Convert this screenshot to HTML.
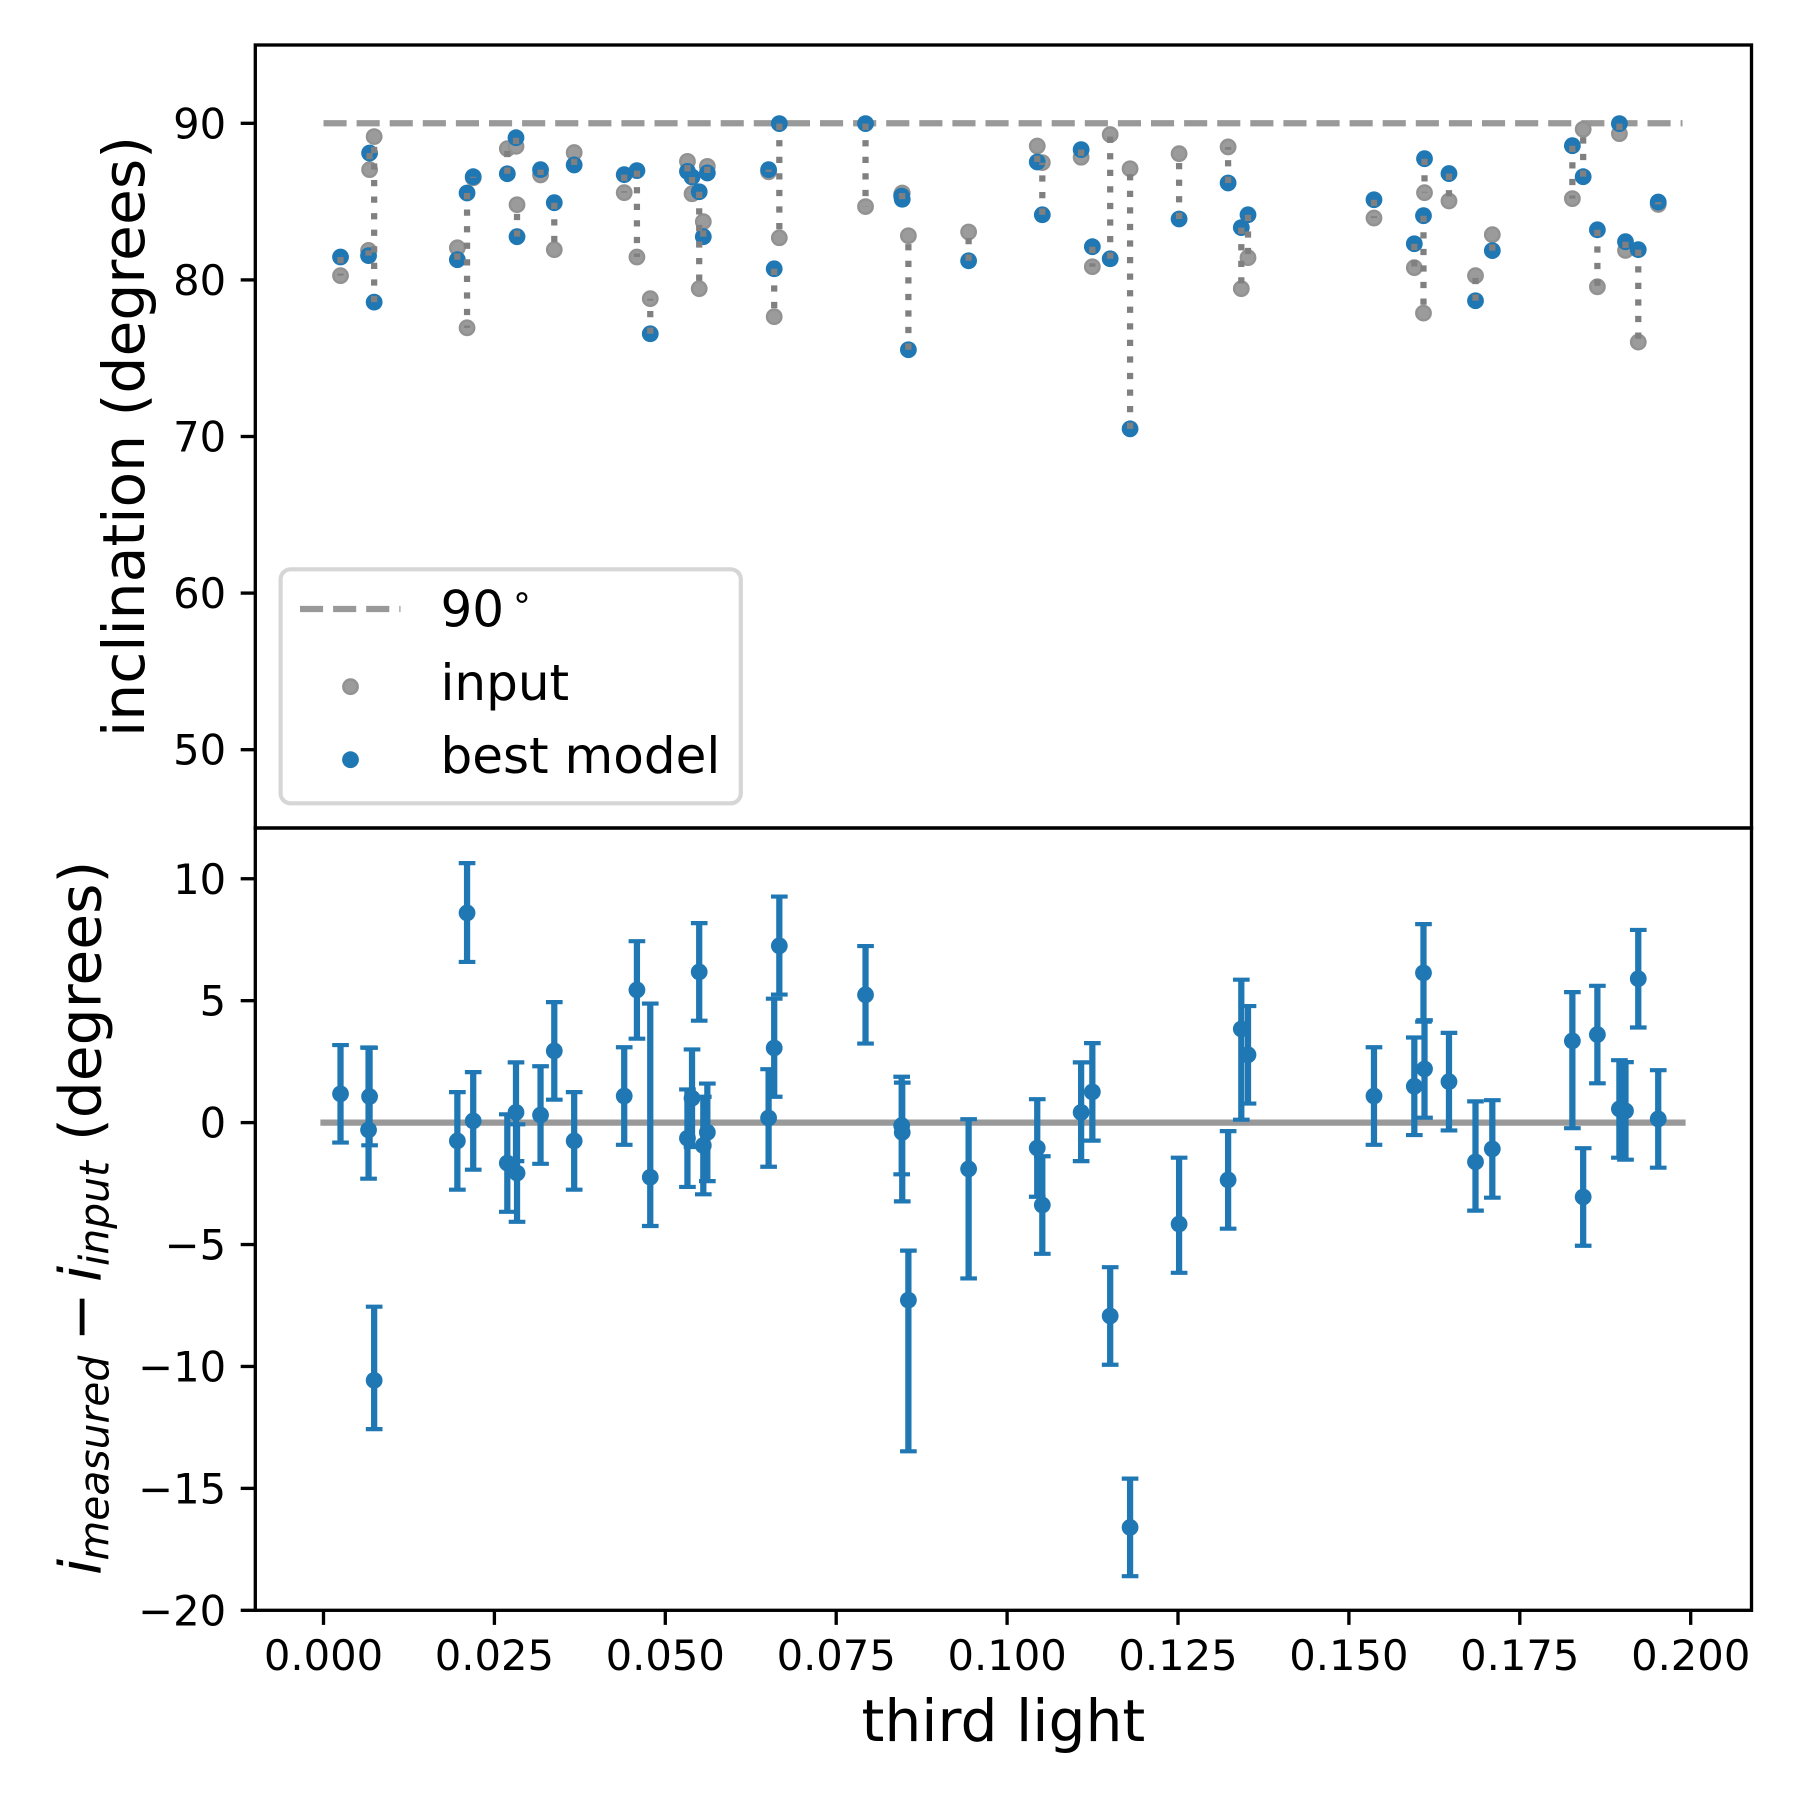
<!DOCTYPE html>
<html lang="en">
<head>
<meta charset="utf-8">
<title>Inclination vs third light</title>
<style>
html,body{margin:0;padding:0;background:#fff;}
svg{display:block;}
text{font-family:"DejaVu Sans","Liberation Sans",sans-serif;fill:#000;}
</style>
</head>
<body>
<svg id="chart" xmlns="http://www.w3.org/2000/svg" width="1800" height="1800" viewBox="0 0 1800 1800">
  <rect x="0" y="0" width="1800" height="1800" fill="#fff"/>
  <g id="top-marks"></g>
  <g id="bottom-marks"></g>
  <g id="axes"></g>

  <text font-size="58.33" text-anchor="middle" transform="translate(144,436.5) rotate(-90)">inclination (degrees)</text>
  <text font-size="58.33" transform="translate(100.5,1575) rotate(-90)"><tspan font-style="italic" x="0" y="0">i</tspan><tspan font-style="italic" font-size="40.8" x="14.5" y="7.8">measured</tspan><tspan x="233.8" y="0">−</tspan><tspan font-style="italic" x="293" y="0">i</tspan><tspan font-style="italic" font-size="40.8" x="309" y="7.8">input</tspan><tspan x="434" y="0">(degrees)</tspan></text>
  <text font-size="58.33" text-anchor="middle" x="1003.4" y="1741">third light</text>

  <g>
    <rect x="280.6" y="569.3" width="460.2" height="234" rx="10" ry="10" fill="#fff" stroke="#d6d6d6" stroke-width="4.17"/>
    <line x1="300" y1="609" x2="400.5" y2="609" stroke="#999999" stroke-width="6.25" stroke-dasharray="23.1 10"/>
    <text font-size="50" x="440.5" y="626.5">90<tspan font-size="35" x="511" y="608.5">∘</tspan></text>
    <circle cx="350.5" cy="686.7" r="7.2" fill="#9b9b9b" stroke="#929292" stroke-width="2.4"/>
    <text font-size="50" x="440.5" y="700">input</text>
    <circle cx="350.5" cy="759.7" r="8.4" fill="#1f77b4"/>
    <text font-size="50" x="440.5" y="773">best model</text>
  </g>
</svg>
<script>
// third light of each simulated system
const thirdLight = [0.00249,0.00674,0.00659,0.00741,0.01958,0.02100,0.02190,0.02689,0.02816,0.02831,0.03175,0.03376,0.03667,0.04399,0.04585,0.04780,0.05324,0.05391,0.05496,0.05556,0.05615,0.06511,0.06593,0.06668,0.07929,0.08458,0.08466,0.08556,0.09437,0.10441,0.10515,0.11083,0.11247,0.11508,0.11799,0.12516,0.13233,0.13426,0.13524,0.15367,0.15957,0.16091,0.16106,0.16464,0.16852,0.17098,0.18269,0.18427,0.18635,0.18957,0.19046,0.19233,0.19525];
// input inclination (degrees)
const inputInc = [80.27,87.04,81.88,89.15,82.05,76.94,86.52,88.38,88.53,84.80,86.70,81.93,88.13,85.57,81.46,78.80,87.57,85.50,79.44,83.72,87.25,86.90,77.65,82.69,84.68,85.47,85.55,82.82,83.06,88.55,87.49,87.83,80.84,89.28,87.10,88.06,88.49,79.44,81.42,83.95,80.78,77.88,85.57,85.04,80.27,82.89,85.19,89.62,79.56,89.34,81.88,76.03,84.82];
// best model inclination (degrees)
const bestInc = [81.46,88.10,81.55,78.58,81.29,85.55,86.59,86.78,89.08,82.76,87.04,84.93,87.34,86.72,86.98,76.56,86.93,86.57,85.63,82.76,86.83,87.04,80.71,89.98,89.98,85.35,85.15,75.54,81.22,87.53,84.16,88.32,82.12,81.35,70.49,83.89,86.19,83.34,84.16,85.12,82.31,84.10,87.74,86.79,78.67,81.87,88.57,86.59,83.20,89.98,82.44,81.93,84.97];
// measured minus input inclination (degrees)
const residual = [1.18,1.07,-0.30,-10.57,-0.75,8.60,0.07,-1.66,0.42,-2.07,0.31,2.94,-0.75,1.09,5.44,-2.24,-0.64,1.00,6.18,-0.94,-0.40,0.19,3.06,7.25,5.24,-0.12,-0.40,-7.28,-1.90,-1.04,-3.38,0.42,1.26,-7.93,-16.60,-4.16,-2.35,3.84,2.78,1.09,1.49,6.14,2.20,1.68,-1.61,-1.08,3.35,-3.05,3.61,0.56,0.48,5.90,0.15];
// upper error size (degrees)
const errUpper = [2.0,2.0,3.38,3.02,2.0,2.04,2.0,2.0,2.05,2.0,2.0,2.0,2.0,2.0,2.0,7.12,2.0,2.0,2.0,2.0,2.0,2.0,2.02,2.02,2.0,2.0,2.04,2.03,2.04,2.0,2.0,2.05,2.0,2.0,2.0,2.72,2.0,2.02,2.0,2.0,2.0,2.0,2.0,2.0,2.48,2.0,2.0,2.0,2.0,2.0,2.0,2.0,2.0];
// lower error size (degrees)
const errLower = [2.0,2.0,2.0,2.0,2.0,2.01,2.0,2.0,2.0,2.0,2.0,2.0,2.0,2.0,2.0,2.0,2.0,2.0,2.0,2.0,2.0,2.0,2.0,2.0,2.0,2.0,2.83,6.20,4.49,2.0,2.0,2.0,2.0,2.0,2.0,2.0,2.0,3.72,2.0,2.0,2.0,2.0,2.0,2.0,2.0,2.0,3.58,2.0,2.0,2.0,2.0,2.0,2.0];
// axis ticks and reference lines
const xTicks = [0,0.025,0.05,0.075,0.1,0.125,0.15,0.175,0.2];
const xTickLabels = ["0.000","0.025","0.050","0.075","0.100","0.125","0.150","0.175","0.200"];
const topTicks = [50,60,70,80,90];
const topTickLabels = ["50","60","70","80","90"];
const bottomTicks = [-20,-15,-10,-5,0,5,10];
const bottomTickLabels = ["\u221220","\u221215","\u221210","\u22125","0","5","10"];
const referenceRange = [0,0.1988];
const topReference = [90];
const bottomReference = [0];

const SVG_NS = "http://www.w3.org/2000/svg";
const frame = {left:255.3,right:1751.5,top:45,mid:828,bottom:1610.3};
function xPos(v){return 323.5 + v*6836;}
function yTop(v){return frame.mid - (v-45)*15.66;}
function yBottom(v){return frame.bottom - (v+20)*24.385;}
function make(tag,parent,attrs){
  const el = document.createElementNS(SVG_NS,tag);
  for(const k in attrs){el.setAttribute(k,attrs[k]);}
  parent.appendChild(el);
  return el;
}
const topG = document.getElementById("top-marks");
const botG = document.getElementById("bottom-marks");
const axesG = document.getElementById("axes");

// top panel: reference line
const refTop = make("line",topG,{x1:xPos(referenceRange[0]),x2:xPos(referenceRange[1]),y1:yTop(topReference[0]),y2:yTop(topReference[0]),stroke:"#999999","stroke-width":6.25,"stroke-dasharray":"23.1 10"});



// top panel: input points
thirdLight.forEach(function(t,i){
  const c = make("circle",topG,{cx:xPos(t),cy:yTop(inputInc[i]),r:7.2,fill:"#9b9b9b",stroke:"#929292","stroke-width":2.4});
  
  
});
// top panel: best model points
thirdLight.forEach(function(t,i){
  const c = make("circle",topG,{cx:xPos(t),cy:yTop(bestInc[i]),r:8.4,fill:"#1f77b4"});
  
  
});
// top panel: dotted connectors from best model to input
thirdLight.forEach(function(t,i){
  const l = make("line",topG,{x1:xPos(t),x2:xPos(t),y1:yTop(bestInc[i]),y2:yTop(inputInc[i]),stroke:"#808080","stroke-width":6.25,"stroke-dasharray":"6.25 10.31"});
  
  
});

// bottom panel: zero line
const refBot = make("line",botG,{x1:xPos(referenceRange[0]),x2:xPos(referenceRange[1]),y1:yBottom(bottomReference[0]),y2:yBottom(bottomReference[0]),stroke:"#999999","stroke-width":6.25,"stroke-linecap":"square"});



// bottom panel: error bars and points
thirdLight.forEach(function(t,i){
  const x = xPos(t);
  const hi = yBottom(residual[i]+errUpper[i]);
  const lo = yBottom(residual[i]-errLower[i]);
  const stem = make("line",botG,{x1:x,x2:x,y1:hi,y2:lo,stroke:"#1f77b4","stroke-width":6.25});
  
  
  const capTop = make("line",botG,{x1:x-8.33,x2:x+8.33,y1:hi,y2:hi,stroke:"#1f77b4","stroke-width":4.17});
  
  
  const capBot = make("line",botG,{x1:x-8.33,x2:x+8.33,y1:lo,y2:lo,stroke:"#1f77b4","stroke-width":4.17});
  
  
});
thirdLight.forEach(function(t,i){
  const c = make("circle",botG,{cx:xPos(t),cy:yBottom(residual[i]),r:8.4,fill:"#1f77b4"});
  
  
});

// axes frames
const topFrame = make("rect",axesG,{x:frame.left,y:frame.top,width:frame.right-frame.left,height:frame.mid-frame.top,fill:"none",stroke:"#000","stroke-width":3.33});


const botFrame = make("rect",axesG,{x:frame.left,y:frame.mid,width:frame.right-frame.left,height:frame.bottom-frame.mid,fill:"none",stroke:"#000","stroke-width":3.33});



// ticks
function yTickSet(ticks,labels,scale,tickName,labelName){
  ticks.forEach(function(v,i){
    const y = scale(v);
    const tick = make("line",axesG,{x1:frame.left-14.6,x2:frame.left,y1:y,y2:y,stroke:"#000","stroke-width":3.33});
    
    
    const txt = make("text",axesG,{x:frame.left-29.2,y:y+15,"font-size":41.67,"text-anchor":"end"});
    txt.textContent = labels[i];
    
    
  });
}
yTickSet(topTicks,topTickLabels,yTop,'top-y-tick','top-y-tick-label');
yTickSet(bottomTicks,bottomTickLabels,yBottom,'bottom-y-tick','bottom-y-tick-label');
xTicks.forEach(function(v,i){
  const x = xPos(v);
  const tick = make("line",axesG,{x1:x,x2:x,y1:frame.bottom,y2:frame.bottom+14.6,stroke:"#000","stroke-width":3.33});
  
  
  const txt = make("text",axesG,{x:x,y:1670,"font-size":41.67,"text-anchor":"middle"});
  txt.textContent = xTickLabels[i];
  
  
});
</script>
</body>
</html>
